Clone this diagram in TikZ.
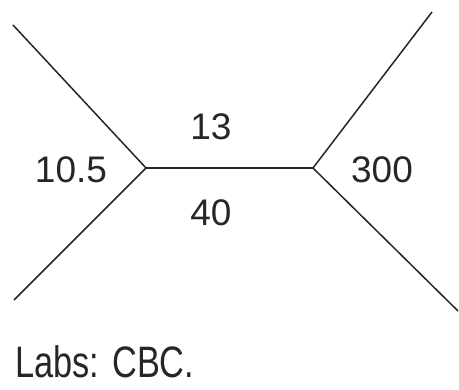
\documentclass[tikz,border=0pt]{standalone}
\usepackage{fontspec}
\setmainfont{Liberation Sans}
\begin{document}
\begin{tikzpicture}[x=1pt, y=-1pt, line width=1.5pt, color=black!85,
                    len/.style={font=\fontsize{37}{42}\selectfont, inner sep=0pt},
                    caption/.style={font=\fontsize{44}{50}\selectfont, inner sep=0pt,
                                    xscale=0.78, transform shape}]
  \useasboundingbox (0,0) rectangle (459,390);

  \coordinate (l) at (146,168);
  \coordinate (r) at (313,168);
  \coordinate (lt) at (13,25);
  \coordinate (lb) at (14,300);
  \coordinate (rt) at (432,12);
  \coordinate (rb) at (458,311);

  \draw (lt) -- (l) -- (lb);
  \draw (l) -- (r);
  \draw (rt) -- (r) -- (rb);

  \node[len] (a) at (71,170) {10.5};
  \node[len] (b) at (211,127) {13};
  \node[len] (c) at (211,213) {40};
  \node[len] (d) at (382,170) {300};

  \node[caption, anchor=base west] (labs) at (15,378) {Labs: CBC.};
\end{tikzpicture}
\end{document}
